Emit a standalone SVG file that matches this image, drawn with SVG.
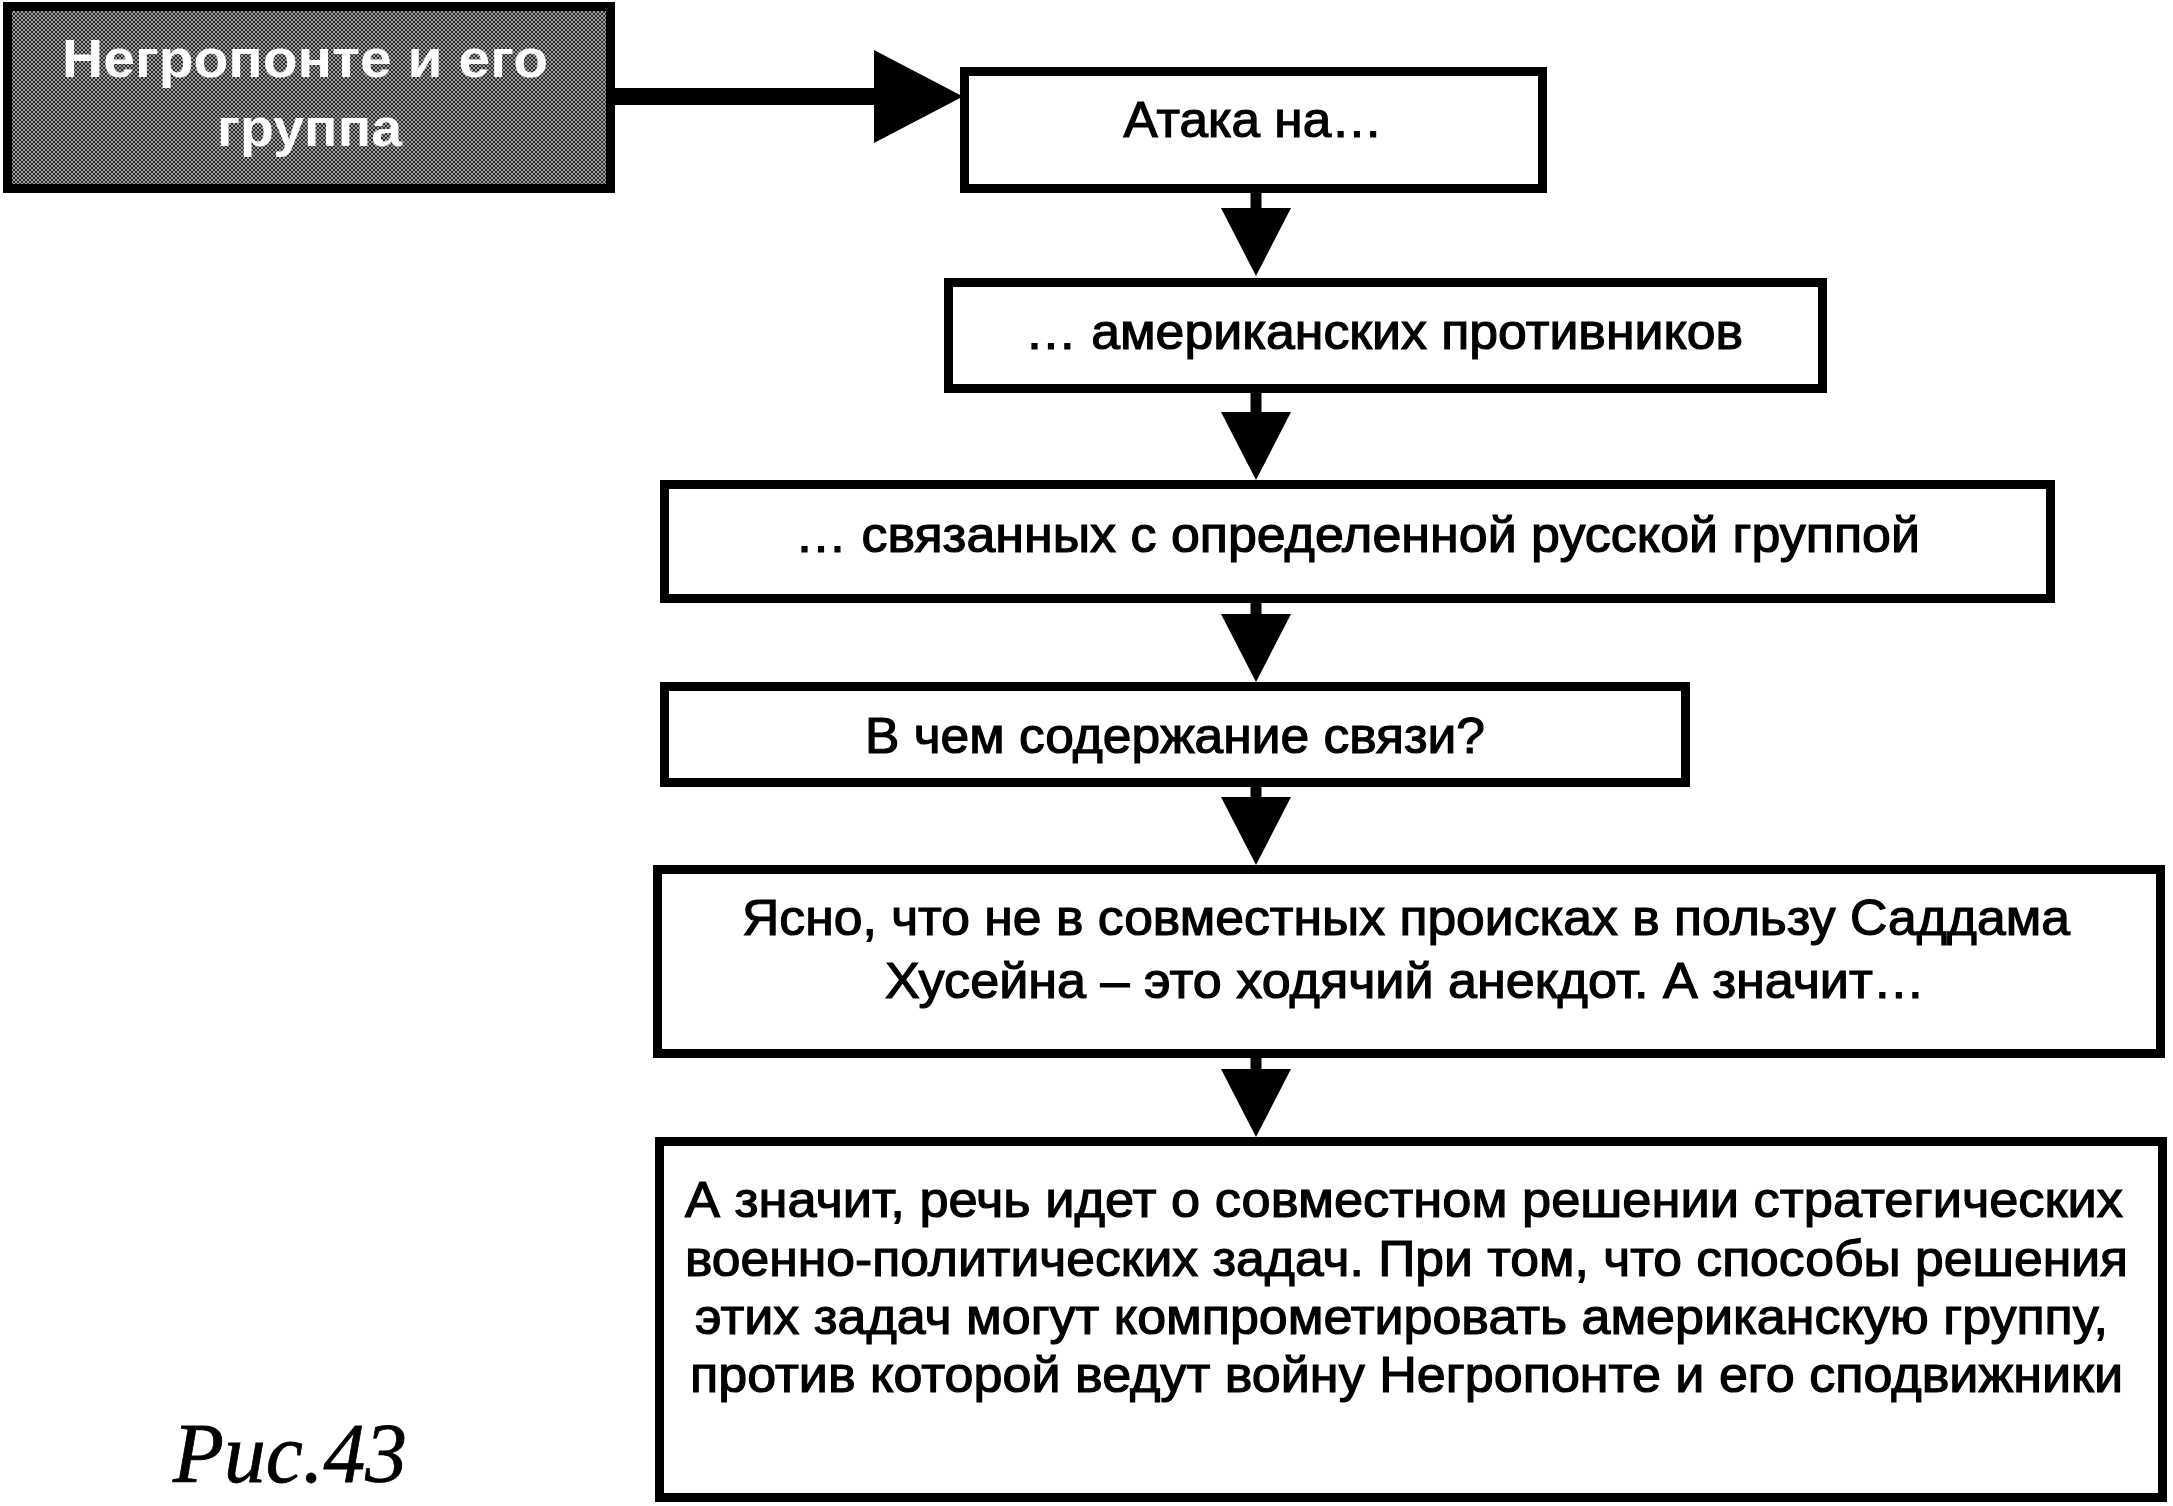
<svg xmlns="http://www.w3.org/2000/svg" width="2173" height="1506" viewBox="0 0 2173 1506">
  <style>
    .box { fill: #ffffff; stroke: #000000; stroke-width: 9; }
    .dark { fill: url(#dither); stroke: #000000; stroke-width: 9; }
    .t { font-family: "Liberation Sans", Arial, sans-serif; font-size: 50px; fill: #000000; stroke: #000000; stroke-width: 1.2px; text-anchor: middle; }
    .tw { font-family: "Liberation Sans", Arial, sans-serif; font-size: 53px; font-weight: bold; fill: #ffffff; text-anchor: middle; }
    .cap { font-family: "Liberation Serif", "Times New Roman", serif; font-style: italic; font-size: 84px; fill: #000000; stroke: #000000; stroke-width: 0.8px; }
    .stem { stroke: #000000; stroke-width: 11; fill: none; }
    .stemh { stroke: #000000; stroke-width: 17; fill: none; }
  </style>
  <defs>
    <pattern id="dither" width="4" height="4" patternUnits="userSpaceOnUse">
      <rect width="4" height="4" fill="#a0a0a0"/>
      <path d="M0,0 L4,4 M4,0 L0,4" stroke="#2a2a2a" stroke-width="1"/>
    </pattern>
    <marker id="ah" viewBox="0 0 68 70" refX="0" refY="35" markerWidth="68" markerHeight="70" markerUnits="userSpaceOnUse" orient="auto">
      <path d="M0,0 L68,35 L0,70 Z" fill="#000000"/>
    </marker>
    <marker id="ahh" viewBox="0 0 89 93" refX="0" refY="46.5" markerWidth="89" markerHeight="93" markerUnits="userSpaceOnUse" orient="auto">
      <path d="M0,0 L89,46.5 L0,93 Z" fill="#000000"/>
    </marker>
  </defs>
  <rect width="2173" height="1506" fill="#ffffff"/>

  <g id="connectors">
    <path class="stemh" d="M615,96.5 L874,96.5" marker-end="url(#ahh)"/>
    <path class="stem" d="M1256,193 L1256,208" marker-end="url(#ah)"/>
    <path class="stem" d="M1256,393 L1256,412" marker-end="url(#ah)"/>
    <path class="stem" d="M1256,603 L1256,614" marker-end="url(#ah)"/>
    <path class="stem" d="M1256,787 L1256,797" marker-end="url(#ah)"/>
    <path class="stem" d="M1256,1058 L1256,1069" marker-end="url(#ah)"/>
  </g>

  <g id="node-negroponte">
    <rect class="dark" x="7.5" y="6.5" width="603" height="182"/>
    <text class="tw" x="305" y="77" textLength="486" lengthAdjust="spacingAndGlyphs">Негропонте и его</text>
    <text class="tw" x="309.5" y="146" textLength="185" lengthAdjust="spacingAndGlyphs">группа</text>
  </g>

  <g id="node-ataka">
    <rect class="box" x="964.5" y="71.5" width="578" height="117"/>
    <text class="t" x="1253" y="137" textLength="259" lengthAdjust="spacingAndGlyphs">Атака на…</text>
  </g>

  <g id="node-amerikanskih">
    <rect class="box" x="948.5" y="282.5" width="874" height="106"/>
    <text class="t" x="1384" y="349" textLength="718" lengthAdjust="spacingAndGlyphs">… американских противников</text>
  </g>

  <g id="node-svyazannyh">
    <rect class="box" x="664.5" y="484.5" width="1386" height="114"/>
    <text class="t" x="1357.5" y="552" textLength="1125" lengthAdjust="spacingAndGlyphs">… связанных с определенной русской группой</text>
  </g>

  <g id="node-soderzhanie">
    <rect class="box" x="664.5" y="686.5" width="1021" height="96"/>
    <text class="t" x="1175" y="753" textLength="620" lengthAdjust="spacingAndGlyphs">В чем содержание связи?</text>
  </g>

  <g id="node-yasno">
    <rect class="box" x="657.5" y="869.5" width="1503" height="184"/>
    <text class="t" x="1406" y="935" textLength="1328" lengthAdjust="spacingAndGlyphs">Ясно, что не в совместных происках в пользу Саддама</text>
    <text class="t" x="1405" y="998" textLength="1040" lengthAdjust="spacingAndGlyphs">Хусейна – это ходячий анекдот. А значит…</text>
  </g>

  <g id="node-znachit">
    <rect class="box" x="659.5" y="1141.5" width="1503" height="356"/>
    <text class="t" x="1404" y="1217" textLength="1438" lengthAdjust="spacingAndGlyphs">А значит, речь идет о совместном решении стратегических</text>
    <text class="t" x="1406.5" y="1276" textLength="1443" lengthAdjust="spacingAndGlyphs">военно-политических задач. При том, что способы решения</text>
    <text class="t" x="1401.5" y="1334" textLength="1413" lengthAdjust="spacingAndGlyphs">этих задач могут компрометировать американскую группу,</text>
    <text class="t" x="1406.5" y="1392" textLength="1433" lengthAdjust="spacingAndGlyphs">против которой ведут войну Негропонте и его сподвижники</text>
  </g>

  <g id="caption">
    <text class="cap" x="173" y="1482" textLength="234" lengthAdjust="spacingAndGlyphs">Рис.43</text>
  </g>
</svg>
